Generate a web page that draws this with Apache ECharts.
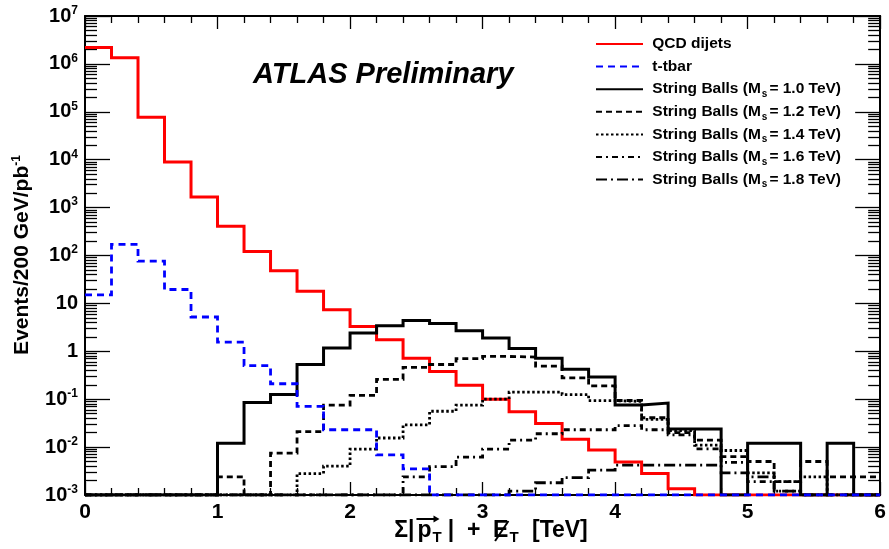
<!DOCTYPE html>
<html>
<head>
<meta charset="utf-8">
<script src="https://cdn.jsdelivr.net/npm/echarts@6/dist/echarts.min.js"></script>
<style>
  html, body { margin: 0; padding: 0; background: #fff; }
  #chart { width: 889px; height: 549px; }
</style>
</head>
<body>
<div id="chart"></div>
<script>
// 200 GeV bins of the scalar sum of jet pT plus missing ET, in TeV
const binEdges = [0, 0.2, 0.4, 0.6, 0.8, 1.0, 1.2, 1.4, 1.6, 1.8, 2.0, 2.2, 2.4, 2.6, 2.8, 3.0,
                  3.2, 3.4, 3.6, 3.8, 4.0, 4.2, 4.4, 4.6, 4.8, 5.0, 5.2, 5.4, 5.6, 5.8, 6.0];

// Events / 200 GeV / pb^-1 in each bin (0 = empty bin)
const qcdDijets = [2.2e6, 1.35e6, 7.7e4, 8.9e3, 1660, 410, 121, 48, 18, 7.4, 3.3, 1.75, 0.72, 0.38, 0.195,
                   0.10, 0.055, 0.031, 0.0145, 0.0087, 0.0049, 0.0028, 0.00135, 0, 0, 0, 0, 0, 0, 0];
const ttbar = [15, 170, 76, 19.5, 5.2, 1.55, 0.50, 0.21, 0.071, 0.023, 0.023, 0.0069, 0.0035, 0, 0,
               0, 0, 0, 0, 0, 0, 0, 0, 0, 0, 0, 0, 0, 0, 0];
const stringBalls10 = [0, 0, 0, 0, 0, 0.012, 0.085, 0.125, 0.53, 1.17, 2.4, 3.4, 4.4, 3.8, 2.7,
                       1.9, 1.15, 0.72, 0.42, 0.29, 0.076, 0.083, 0.024, 0.024, 0, 0.012, 0.012, 0, 0.012, 0];
const stringBalls12 = [0, 0, 0, 0, 0, 0.0024, 0, 0.0075, 0.021, 0.075, 0.12, 0.26, 0.46, 0.53, 0.70,
                       0.78, 0.76, 0.49, 0.28, 0.19, 0.094, 0.041, 0.020, 0.014, 0.0063, 0.005, 0.0019, 0.005, 0.0024, 0.0024];
const stringBalls14 = [0, 0, 0, 0, 0, 0, 0, 0, 0.0028, 0.0040, 0.0091, 0.0155, 0.029, 0.056, 0.075,
                       0.10, 0.14, 0.14, 0.125, 0.093, 0.090, 0.038, 0.022, 0.011, 0.0085, 0.0029, 0.0019, 0.0024, 0, 0];
const stringBalls16 = [0, 0, 0, 0, 0, 0, 0, 0, 0, 0, 0, 0, 0.0024, 0.0039, 0.0062,
                       0.0091, 0.014, 0.019, 0.023, 0.023, 0.028, 0.023, 0.018, 0.0092, 0.0048, 0.0019, 0.0012, 0, 0, 0];
const stringBalls18 = [0, 0, 0, 0, 0, 0, 0, 0, 0, 0, 0, 0, 0, 0, 0,
                       0, 0.0012, 0.0018, 0.0023, 0.0033, 0.0042, 0.0042, 0.0042, 0.0042, 0.0029, 0.0024, 0.0012, 0, 0, 0];

// axis ticks and their labels
const xTickValues = [0, 1, 2, 3, 4, 5, 6];
const xTickText = ['0', '1', '2', '3', '4', '5', '6'];
const yTickValues = [1e-3, 1e-2, 1e-1, 1, 10, 1e2, 1e3, 1e4, 1e5, 1e6, 1e7];
const yTickText = ['10^-3', '10^-2', '10^-1', '1', '10', '10^2', '10^3', '10^4', '10^5', '10^6', '10^7'];
const yMinorMultipliers = [2, 3, 4, 5, 6, 7, 8, 9];

const seriesNames = ['QCD dijets', 't-tbar',
  'String Balls (Ms = 1.0 TeV)', 'String Balls (Ms = 1.2 TeV)', 'String Balls (Ms = 1.4 TeV)',
  'String Balls (Ms = 1.6 TeV)', 'String Balls (Ms = 1.8 TeV)'];

const FONT = '"Liberation Sans", Arial, Helvetica, sans-serif';
const yFloor = yTickValues[0];
const yCeil = yTickValues[yTickValues.length - 1];

// log-scale minor tick positions
const yMinorValues = [];
for (let d = 0; d < yTickValues.length - 1; d++) {
  yMinorMultipliers.forEach(m => yMinorValues.push(m * yTickValues[d]));
}

// histogram outline: each bin holds its value up to the next edge; empty bins sit on the frame floor
function histPoints(values) {
  const pts = values.map((v, i) => [binEdges[i], v > 0 ? v : yFloor]);
  const last = values[values.length - 1];
  pts.push([binEdges[binEdges.length - 1], last > 0 ? last : yFloor]);
  return pts;
}

const styles = {
  'QCD dijets': { color: '#ff0000', width: 3, dash: 'solid' },
  't-tbar': { color: '#0000ff', width: 2.8, dash: [7, 5] },
  'String Balls (Ms = 1.0 TeV)': { color: '#000000', width: 3, dash: 'solid' },
  'String Balls (Ms = 1.2 TeV)': { color: '#000000', width: 2.8, dash: [6, 4] },
  'String Balls (Ms = 1.4 TeV)': { color: '#000000', width: 2.8, dash: [2.5, 2.5] },
  'String Balls (Ms = 1.6 TeV)': { color: '#000000', width: 2.8, dash: [6, 4, 2, 4] },
  'String Balls (Ms = 1.8 TeV)': { color: '#000000', width: 2.8, dash: [11, 4, 2, 4] }
};
const valuesByName = {
  'QCD dijets': qcdDijets,
  't-tbar': ttbar,
  'String Balls (Ms = 1.0 TeV)': stringBalls10,
  'String Balls (Ms = 1.2 TeV)': stringBalls12,
  'String Balls (Ms = 1.4 TeV)': stringBalls14,
  'String Balls (Ms = 1.6 TeV)': stringBalls16,
  'String Balls (Ms = 1.8 TeV)': stringBalls18
};
// drawing order: QCD underneath, then the string-ball samples, t-tbar on top
const drawOrder = ['QCD dijets', 'String Balls (Ms = 1.8 TeV)', 'String Balls (Ms = 1.6 TeV)',
  'String Balls (Ms = 1.4 TeV)', 'String Balls (Ms = 1.2 TeV)', 'String Balls (Ms = 1.0 TeV)', 't-tbar'];

const series = drawOrder.map((n, k) => {
  const s = styles[n];
  return {
    name: n,
    type: 'line',
    step: 'end',
    symbol: 'none',
    showSymbol: false,
    clip: true,
    z: 2 + k * 0.01,
    data: histPoints(valuesByName[n]),
    lineStyle: { color: s.color, width: s.width, type: s.dash, cap: 'butt', join: 'miter' },
    itemStyle: { color: s.color },
    emphasis: { disabled: true }
  };
});

function yLabel(v) {
  let idx = 0, best = Infinity;
  yTickValues.forEach((t, i) => {
    const d = Math.abs(Math.log10(t) - Math.log10(v));
    if (d < best) { best = d; idx = i; }
  });
  const txt = yTickText[idx];
  const parts = txt.split('^');
  return parts.length === 2 ? `{b|${parts[0]}}{sup|${parts[1]}}` : `{b|${txt}}`;
}

const axisLineStyle = { color: '#000', width: 2 };

function xAxisDef(pos, labels) {
  return {
    type: 'value', position: pos, min: 0, max: 6, interval: 1,
    axisLine: { show: true, onZero: false, lineStyle: axisLineStyle },
    axisTick: { show: true, inside: true, length: 13, lineStyle: { color: '#000', width: 1.3 } },
    minorTick: { show: true, splitNumber: 5, length: 7, lineStyle: { color: '#000', width: 1.3 } },
    splitLine: { show: false }, minorSplitLine: { show: false },
    axisLabel: labels ? {
      show: true, margin: 7, color: '#000', fontFamily: FONT, fontWeight: 'bold', fontSize: 21,
      customValues: xTickValues,
      formatter: v => xTickText[xTickValues.indexOf(Math.round(v))]
    } : { show: false }
  };
}

function yAxisDef(pos, values, len, labels, lineShow) {
  return {
    type: 'log', logBase: 10, position: pos, min: yFloor, max: yCeil,
    axisLine: { show: lineShow, onZero: false, lineStyle: axisLineStyle },
    axisTick: { show: true, inside: true, length: len, customValues: values,
                lineStyle: { color: '#000', width: 1.3 } },
    splitLine: { show: false },
    axisLabel: labels ? {
      show: true, margin: 7, color: '#000', customValues: yTickValues, formatter: yLabel,
      rich: {
        b: { fontFamily: FONT, fontWeight: 'bold', fontSize: 20, color: '#000' },
        sup: { fontFamily: FONT, fontWeight: 'bold', fontSize: 12, color: '#000', padding: [0, 0, 11, 0] }
      }
    } : { show: false }
  };
}

// x-axis title pieces: Σ|p_T| + E_T [TeV] with an arrow over p and a slash through E
const measureCtx = document.createElement('canvas').getContext('2d');
function textWidth(str, size) {
  measureCtx.font = `bold ${size}px ${FONT}`;
  return measureCtx.measureText(str).width;
}
const titleSize = 23, subSize = 15, titleMid = 531;
const pieces = [
  { t: '\u03A3|', size: titleSize, gap: 3 },
  { t: 'p', size: titleSize, arrow: true, gap: 1 },
  { t: 'T', size: subSize, sub: true, gap: 6 },
  { t: '|  +  ', size: titleSize, gap: 0 },
  { t: 'E', size: titleSize, slash: true, gap: 1 },
  { t: 'T', size: subSize, sub: true, gap: 7 },
  { t: ' [TeV]', size: titleSize, gap: 0 }
];
let totalW = 0;
pieces.forEach(p => { p.w = textWidth(p.t, p.size); totalW += p.w + p.gap; });
let cursor = 491 - totalW / 2;
const titleGraphics = [];
pieces.forEach(p => {
  titleGraphics.push({
    type: 'text', x: cursor, y: titleMid + (p.sub ? 7 : 0), silent: true,
    style: { text: p.t, font: `bold ${p.size}px ${FONT}`, fill: '#000', verticalAlign: 'middle', align: 'left' }
  });
  if (p.arrow) {
    const y = titleMid - 12, x0 = cursor - 1, x1 = cursor + p.w + 7;
    titleGraphics.push({ type: 'line', silent: true, shape: { x1: x0, y1: y, x2: x1 - 2, y2: y },
                         style: { stroke: '#000', lineWidth: 2 } });
    titleGraphics.push({ type: 'polygon', silent: true,
                         shape: { points: [[x1 + 1, y], [x1 - 5, y - 3.5], [x1 - 5, y + 3.5]] },
                         style: { fill: '#000' } });
  }
  if (p.slash) {
    titleGraphics.push({ type: 'line', silent: true,
                         shape: { x1: cursor + 2, y1: titleMid + 10, x2: cursor + p.w, y2: titleMid - 10 },
                         style: { stroke: '#000', lineWidth: 2 } });
  }
  cursor += p.w + p.gap;
});

const option = {
  animation: false,
  backgroundColor: '#fff',
  grid: { left: 85, right: 5, top: 16, bottom: 54, show: false },
  xAxis: [xAxisDef('bottom', true), xAxisDef('top', false)],
  yAxis: [
    yAxisDef('left', yTickValues, 25, true, true),
    yAxisDef('left', yMinorValues, 12, false, false),
    yAxisDef('right', yTickValues, 25, false, true),
    yAxisDef('right', yMinorValues, 12, false, false)
  ],
  legend: {
    show: true, orient: 'vertical', left: 590, top: 28, padding: 5,
    itemWidth: 47, itemHeight: 22, itemGap: 0.6,
    selectedMode: false,
    data: seriesNames,
    itemStyle: { opacity: 0, borderWidth: 0 },
    textStyle: {
      color: '#000', fontFamily: FONT, fontWeight: 'bold', fontSize: 15.5,
      height: 22, lineHeight: 22,
      rich: {
        t: { fontFamily: FONT, fontWeight: 'bold', fontSize: 15.5, color: '#000', lineHeight: 22 },
        sub: { fontFamily: FONT, fontWeight: 'bold', fontSize: 10, color: '#000', padding: [10, 2, 0, 1], lineHeight: 22 }
      }
    },
    formatter: name => {
      const m = name.match(/^String Balls \(Ms = (.*)\)$/);
      return m ? `{t| String Balls (M}{sub|s}{t|= ${m[1]})}` : `{t| ${name}}`;
    }
  },
  graphic: [
    {
      type: 'text', x: 253, y: 75, silent: true,
      style: { text: 'ATLAS Preliminary', font: `italic bold 29px ${FONT}`, fill: '#000', verticalAlign: 'middle' }
    },
    {
      type: 'text', x: 22, y: 255, rotation: Math.PI / 2, silent: true,
      style: {
        text: '{t|Events/200 GeV/pb}{sup|-1}', align: 'center', verticalAlign: 'middle',
        rich: {
          t: { fontFamily: FONT, fontWeight: 'bold', fontSize: 21, fill: '#000' },
          sup: { fontFamily: FONT, fontWeight: 'bold', fontSize: 12, fill: '#000', padding: [0, 0, 11, 0] }
        }
      }
    }
  ].concat(titleGraphics),
  series: series
};

const chart = echarts.init(document.getElementById('chart'), null, { renderer: 'canvas' });
chart.setOption(option);
</script>
</body>
</html>
